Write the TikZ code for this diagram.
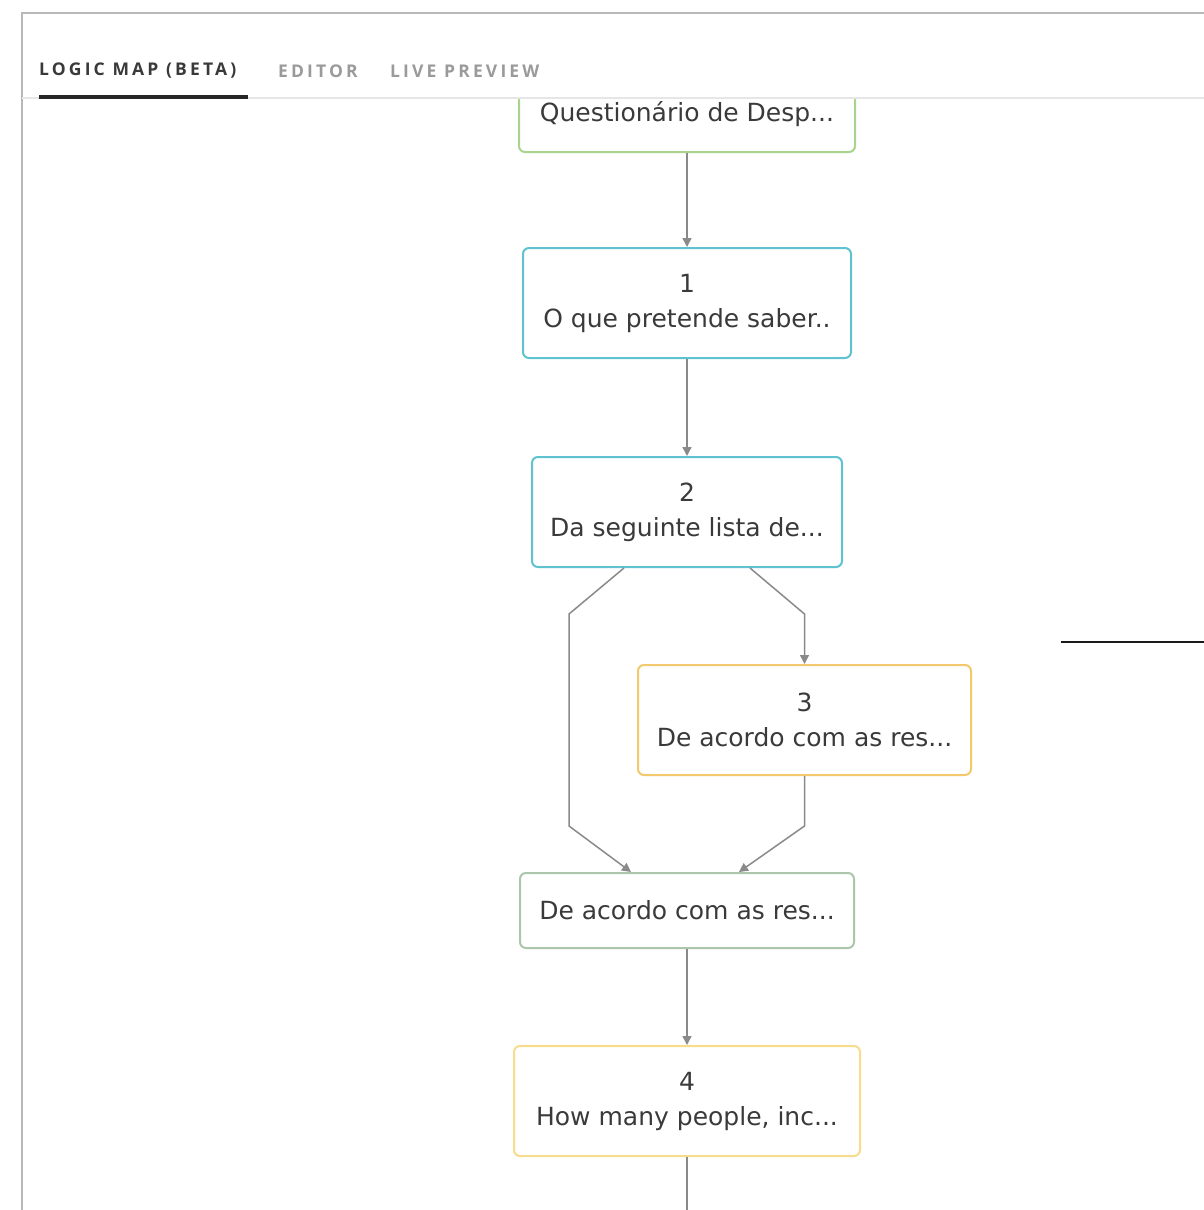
\documentclass[tikz,border=0pt]{standalone}
\usepackage{fontspec}
\setmainfont{DejaVu Sans}
\newfontfamily\tabfont[LetterSpace=18]{Open Sans}
\usetikzlibrary{arrows.meta}
\definecolor{framegray}{HTML}{B8B8B8}
\definecolor{sepgray}{HTML}{E6E6E6}
\definecolor{txt}{HTML}{3A3A3A}
\definecolor{tabgray}{HTML}{9A9A9A}
\definecolor{edgegray}{HTML}{8A8A8A}
\definecolor{greenb}{HTML}{A9D48E}
\definecolor{cyanb}{HTML}{5EC2D0}
\definecolor{orangeb}{HTML}{F4C96E}
\definecolor{mergeb}{HTML}{ABC6AB}
\definecolor{yellowb}{HTML}{F6DC8C}
\tikzset{
  qbox/.style={draw, line width=2pt, rounded corners=6pt, fill=white, text=txt,
    align=center, font=\fontsize{25}{35}\selectfont, inner sep=0pt},
  edge/.style={draw=edgegray, line width=1.5pt, -{Triangle[width=9pt,length=9pt]}},
  plain/.style={draw=edgegray, line width=1.5pt},
  tab/.style={font=\tabfont\bfseries\fontsize{17.5}{20}\selectfont, anchor=west, inner sep=0pt}
}
\begin{document}
\begin{tikzpicture}[x=1pt,y=-1pt]
\useasboundingbox[fill=white] (0,0) rectangle (1203,1210);
% frame
\draw[framegray, line width=2pt] (22,1212) -- (22,13) -- (1205,13);
% tab separator
\draw[sepgray, line width=1.5pt] (22,98) -- (1205,98);
% tabs
\node[tab, text=txt] (tabA) at (39,71) {LOGIC MAP (BETA)};
\node[tab, text=tabgray] (tabB) at (278,71) {EDITOR};
\node[tab, text=tabgray] (tabC) at (390,71) {LIVE PREVIEW};
\draw[black!85, line width=3.5pt] (39,97) -- (248,97);
% top node (clipped under tab bar)
\begin{scope}
\clip (22,99.5) rectangle (1203,1210);
\node[qbox, draw=greenb, minimum width=336pt, minimum height=75pt] (t) at (687,114.5) {Questionário de Desp...};
\end{scope}
\node[qbox, draw=cyanb, minimum width=328pt, minimum height=110pt] (n1) at (687,303) {\raisebox{0pt}{1}\\O que pretende saber..};
\node[qbox, draw=cyanb, minimum width=310pt, minimum height=110pt] (n2) at (687,512) {2\\Da seguinte lista de...};
\node[qbox, draw=orangeb, minimum width=333pt, minimum height=110pt] (n3) at (804.5,720) {3\\De acordo com as res...};
\node[qbox, draw=mergeb, minimum width=334pt, minimum height=75pt] (m) at (687,910.5) {De acordo com as res...};
\node[qbox, draw=yellowb, minimum width=346pt, minimum height=110pt] (n4) at (687,1101) {4\\How many people, inc...};
\coordinate (bot) at (687,1212);
\coordinate (rA) at (1061,642);
\coordinate (rB) at (1205,642);
% connectors
\draw[edge] (t.south) -- (n1.north);
\draw[edge] (n1.south) -- (n2.north);
\draw[edge] ([xshift=-63pt]n2.south) -- (569,614) -- (569,826) -- ([xshift=-56pt]m.north);
\draw[edge] ([xshift=63pt]n2.south) -- (804.5,614) -- (n3.north);
\draw[edge] (n3.south) -- (804.5,826) -- ([xshift=52pt]m.north);
\draw[edge] (m.south) -- (n4.north);
\draw[plain] (n4.south) -- (bot);
% stray line at right
\draw[black!90, line width=2pt] (rA) -- (rB);
\end{tikzpicture}
\end{document}
